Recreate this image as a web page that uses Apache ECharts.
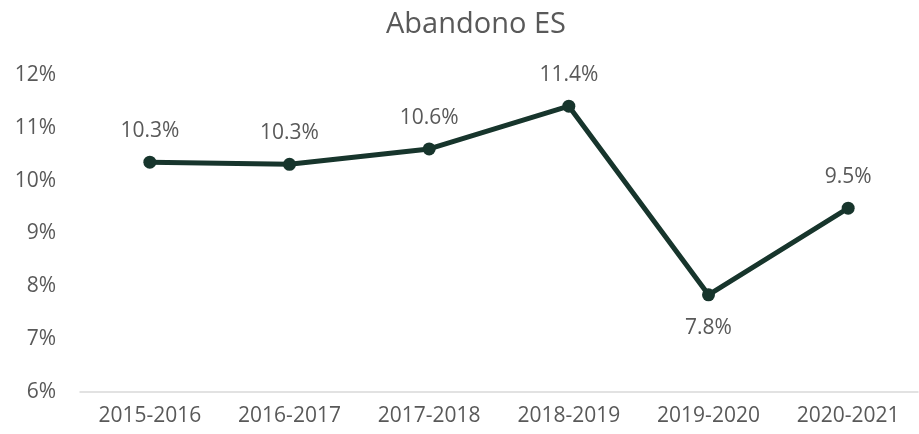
<!DOCTYPE html>
<html>
<head>
<meta charset="utf-8">
<script src="https://cdn.jsdelivr.net/npm/echarts@6/dist/echarts.min.js"></script>
<style>
	html, body { margin: 0; padding: 0; background: #fff; }
	#main { width: 919px; height: 434px; }
</style>
</head>
<body>
<div id="main"></div>
<script>
	var years = ['2015-2016', '2016-2017', '2017-2018', '2018-2019', '2019-2020', '2020-2021'];
	var rates = [10.35, 10.31, 10.6, 11.41, 7.84, 9.48];
	var labelBelow = [false, false, false, false, true, false];

	var font = 'Open Sans';
	var textColor = '#595959';
	var lineColor = '#17352c';

	// 数据点
	var points = [];
	for (var i = 0; i < rates.length; i++) {
		points.push({
			value: rates[i],
			label: { position: labelBelow[i] ? 'bottom' : 'top', distance: labelBelow[i] ? 16 : 14 }
		});
	};

	var myChart = echarts.init(document.getElementById('main'));
	var option = {
		animation: false,
		title: {
			text: 'Abandono ES',
			left: 381,
			top: 5,
			textStyle: {
				fontFamily: font,
				fontSize: 29,
				fontWeight: 'normal',
				color: textColor
			}
		},
		grid: {
			top: 75,
			right: 1,
			bottom: 42,
			left: 80
		},
		xAxis: {
			type: 'category',
			data: years,
			axisTick: { show: false },
			axisLine: { lineStyle: { color: '#d9d9d9', width: 1.5 } },
			axisLabel: {
				interval: 0,
				color: textColor,
				fontFamily: font,
				fontSize: 21,
				margin: 14
			}
		},
		yAxis: {
			type: 'value',
			min: 6,
			max: 12,
			interval: 1,
			splitLine: { show: false },
			axisLine: { show: false },
			axisLabel: {
				color: textColor,
				fontFamily: font,
				fontSize: 21,
				margin: 24,
				formatter: function(val) {
					return val + '%';
				}
			}
		},
		series: [{
			type: 'line',
			data: points,
			symbol: 'circle',
			symbolSize: 13,
			lineStyle: { color: lineColor, width: 5 },
			itemStyle: { color: lineColor },
			label: {
				show: true,
				color: textColor,
				fontFamily: font,
				fontSize: 21,
				formatter: function(p) {
					return p.value.toFixed(1) + '%';
				}
			}
		}]
	};
	myChart.setOption(option);
</script>
</body>
</html>
